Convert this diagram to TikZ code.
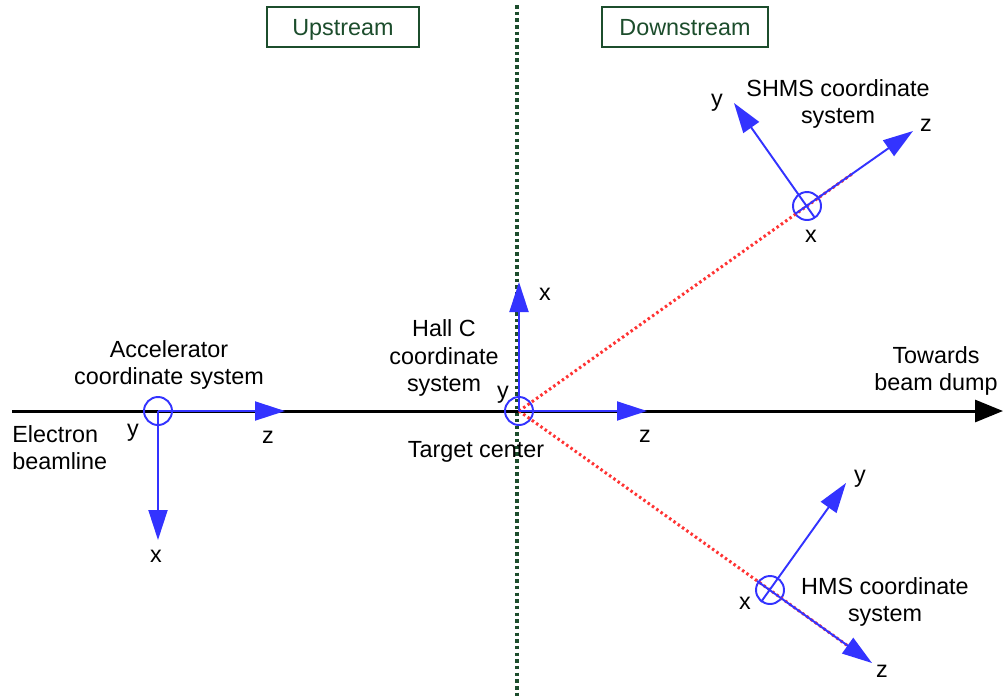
\documentclass[tikz,border=0pt]{standalone}
\usepackage{fontspec}
\setmainfont{Liberation Sans}
\usetikzlibrary{arrows.meta}
\definecolor{axblue}{RGB}{51,51,255}
\definecolor{dred}{RGB}{255,51,51}
\definecolor{dgreen}{RGB}{28,77,44}
\begin{document}
\begin{tikzpicture}[x=0.02cm,y=-0.02cm,
  lbl/.style={font=\fontsize{13.3}{15.5}\selectfont, inner sep=0pt, align=center},
  axis/.style={draw=axblue, line width=1.1pt, -{Triangle[length=0.6cm,width=0.38cm]}, axblue},
  orig/.style={circle, draw=axblue, line width=1.1pt, minimum size=0.56cm, inner sep=0pt},
  reddot/.style={draw=dred, line width=1.7pt, dash pattern=on 1.4pt off 1.6pt},
  regionbox/.style={draw=dgreen, line width=1.1pt, text=dgreen, minimum width=3.04cm, minimum height=0.8cm, text height=1.2em, text depth=0.21em, font=\fontsize{13.3}{15.5}\selectfont}
]
\useasboundingbox (0,0) rectangle (1004,698);
\fill[white] (0,0) rectangle (1004,698);

% divider
\coordinate (divtop) at (517,5);
\coordinate (divbot) at (517,698);
\draw[draw=dgreen, line width=2.4pt, dash pattern=on 2pt off 1.8pt] (divtop) -- (divbot);

% region boxes
\node[regionbox] (up) at (343,27) {Upstream};
\node[regionbox, minimum width=3.32cm] (down) at (685,27) {Downstream};

% beamline
\coordinate (bstart) at (12,411);
\coordinate (bend) at (1003,411);
\draw[line width=1.7pt, -{Triangle[length=0.56cm,width=0.44cm]}] (bstart) -- (bend);

% origins
\node[orig] (acc) at (158,411) {};
\node[orig] (hall) at (519,411) {};
\node[orig] (shms) at (807,206) {};
\node[orig] (hms) at (770,590) {};

% red dotted spectrometer lines
\coordinate (shmsred) at (852,174);
\coordinate (hmsred) at (848,646);
\draw[reddot] (hall.center) -- (shms.center) -- (shmsred);
\draw[reddot] (hall.center) -- (hms.center) -- (hmsred);

% accelerator axes
\coordinate (accz) at (285,411);
\coordinate (accx) at (158,540);
\draw[axis] (acc.center) -- (accz);
\draw[axis] (acc.center) -- (accx);

% hall C axes
\coordinate (hallx) at (519,282);
\coordinate (hallz) at (647,411);
\draw[axis] (hall.center) -- (hallx);
\draw[axis] (hall.center) -- (hallz);

% SHMS axes
\coordinate (shmszb) at (795,214);
\coordinate (shmsz) at (913,131);
\coordinate (shmsyb) at (815,218);
\coordinate (shmsy) at (734,103);
\draw[axis] (shmszb) -- (shmsz);
\draw[axis] (shmsyb) -- (shmsy);

% HMS axes
\coordinate (hmszb) at (757,581);
\coordinate (hmsz) at (872,663);
\coordinate (hmsyb) at (761,602);
\coordinate (hmsy) at (846,483);
\draw[axis] (hmszb) -- (hmsz);
\draw[axis] (hmsyb) -- (hmsy);

% axis labels
\node[lbl] (accyl) at (133,433) {y};
\node[lbl] (acczl) at (268,437) {z};
\node[lbl] (accxl) at (156,556) {x};
\node[lbl] (hallxl) at (545,294) {x};
\node[lbl] (hallzl) at (645,436) {z};
\node[lbl] (hallyl) at (503,395) {y};
\node[lbl] (shmsyl) at (717,103) {y};
\node[lbl] (shmszl) at (926,125) {z};
\node[lbl] (shmsxl) at (811,236) {x};
\node[lbl] (hmsyl) at (860,479) {y};
\node[lbl] (hmszl) at (882,671) {z};
\node[lbl] (hmsxl) at (745,603) {x};

% descriptive labels
\node[lbl] (acclbl) at (169,365) {Accelerator\\coordinate system};
\node[lbl, align=left, anchor=west] (elbl) at (12,448) {Electron\\beamline};
\node[lbl] (halllbl) at (444,358) {Hall C\\coordinate\\system};
\node[lbl] (tgt) at (476,452) {Target center};
\node[lbl] (dump) at (936,371) {Towards\\beam dump};
\node[lbl] (shmslbl) at (838,104) {SHMS coordinate\\system};
\node[lbl] (hmslbl) at (885,602) {HMS coordinate\\system};
\end{tikzpicture}
\end{document}
